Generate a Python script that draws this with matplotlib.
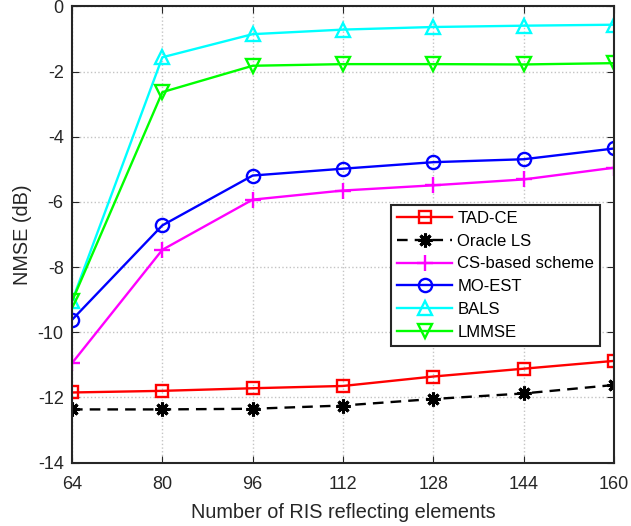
#!/usr/bin/env python3
"""NMSE vs number of RIS reflecting elements."""

import matplotlib
matplotlib.use("Agg")
import matplotlib.pyplot as plt

plt.rcParams["font.family"] = ["Liberation Sans", "DejaVu Sans"]
plt.rcParams["axes.unicode_minus"] = False

n_elements = [64, 80, 96, 112, 128, 144, 160]

tad_ce = [-11.85, -11.80, -11.72, -11.65, -11.36, -11.12, -10.88]
oracle_ls = [-12.37, -12.37, -12.35, -12.25, -12.05, -11.88, -11.62]
cs_based = [-10.95, -7.47, -5.93, -5.65, -5.49, -5.31, -4.95]
mo_est = [-9.62, -6.72, -5.19, -4.98, -4.78, -4.69, -4.36]
bals = [-9.05, -1.56, -0.85, -0.71, -0.63, -0.59, -0.56]
lmmse = [-9.05, -2.63, -1.82, -1.77, -1.77, -1.78, -1.74]

x_ticks = [64, 80, 96, 112, 128, 144, 160]
y_ticks = [0, -2, -4, -6, -8, -10, -12, -14]

TEXT = "#262626"

fig = plt.figure(figsize=(6.31, 5.26), dpi=100)
ax = fig.add_axes([0.1141, 0.1207, 0.859, 0.867])

lw = 1.7
ax.plot(n_elements, tad_ce, "-s", color="#ff0000", label="TAD-CE", linewidth=lw,
        markersize=8.5, markerfacecolor="none", markeredgewidth=1.7)
ax.plot(n_elements, oracle_ls, "--", color="black", label="Oracle LS", linewidth=lw,
        dashes=(4.5, 3), marker=(8, 2, 0), markersize=10, markeredgewidth=2.2)
ax.plot(n_elements, cs_based, "-+", color="#ff00ff", label="CS-based scheme",
        linewidth=lw, markersize=11, markeredgewidth=1.7)
ax.plot(n_elements, mo_est, "-o", color="#0000ff", label="MO-EST", linewidth=lw,
        markersize=9.5, markerfacecolor="none", markeredgewidth=1.7)
ax.plot(n_elements, bals, "-^", color="#00ffff", label="BALS", linewidth=lw,
        markersize=10, markerfacecolor="none", markeredgewidth=1.7)
ax.plot(n_elements, lmmse, "-v", color="#00ff00", label="LMMSE", linewidth=lw,
        markersize=10, markerfacecolor="none", markeredgewidth=1.7)

ax.set_xlim(64, 160)
ax.set_ylim(-14, 0)
ax.set_xticks(x_ticks)
ax.set_yticks(y_ticks)
ax.grid(True, linestyle=":", color="#c4c4c4", linewidth=1.0)
ax.tick_params(direction="in", top=True, right=True, labelsize=13, colors=TEXT, length=5)
ax.tick_params(axis="x", pad=10)
ax.tick_params(axis="y", pad=6)
for sp in ax.spines.values():
    sp.set_linewidth(1.5)
    sp.set_color(TEXT)

ax.set_xlabel("Number of RIS reflecting elements", fontsize=14.3, color=TEXT, labelpad=7)
ax.set_ylabel("NMSE (dB)", fontsize=14.3, color=TEXT, labelpad=4)

leg = ax.legend(loc="upper right", bbox_to_anchor=(0.974, 0.565), fontsize=12,
                fancybox=False, framealpha=1, edgecolor=TEXT, handlelength=3.3,
                borderpad=0.35, labelspacing=0.47, handletextpad=0.3, borderaxespad=0)
leg.get_frame().set_linewidth(1.5)

fig.savefig("out.png", dpi=100, facecolor="white")
